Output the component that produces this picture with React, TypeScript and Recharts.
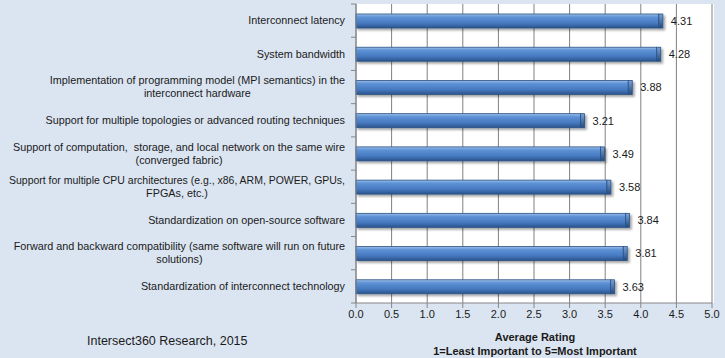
import React from 'react';
import { BarChart, Bar, XAxis, YAxis, CartesianGrid, LabelList } from 'recharts';

const categories = [
  'Interconnect latency',
  'System bandwidth',
  'Implementation of programming model (MPI semantics) in the\ninterconnect hardware',
  'Support for multiple topologies or advanced routing techniques',
  'Support of computation,  storage, and local network on the same wire\n(converged fabric)',
  'Support for multiple CPU architectures (e.g., x86, ARM, POWER, GPUs,\nFPGAs, etc.)',
  'Standardization on open-source software',
  'Forward and backward compatibility (same software will run on future\nsolutions)',
  'Standardization of interconnect technology',
];
const ratings = [4.31, 4.28, 3.88, 3.21, 3.49, 3.58, 3.84, 3.81, 3.63];
const xTicks = [0, 0.5, 1, 1.5, 2, 2.5, 3, 3.5, 4, 4.5, 5];

const FONT = '"Liberation Sans", Arial, sans-serif';
const LABEL_SIZE = 10.8;
const MAX_LABEL = 336;

const data = categories.map((name, i) => ({ name, value: ratings[i] }));

let ctx: CanvasRenderingContext2D | null = null;
function textWidth(s: string) {
  if (!ctx) ctx = document.createElement('canvas').getContext('2d');
  if (!ctx) return s.length * 5.4;
  ctx.font = `${LABEL_SIZE}px ${FONT}`;
  return ctx.measureText(s).width;
}

const CategoryTick = (props: any) => {
  const { y, payload, index } = props;
  const lines: string[] = String(payload.value).split('\n');
  const band = 299 / categories.length;
  const axisX = 356;
  const right = axisX - 11;
  const widths = lines.map((l) => Math.min(textWidth(l), MAX_LABEL));
  const block = Math.max(...widths);
  const cx = right - block / 2;
  const lh = 13;
  const y0 = y - ((lines.length - 1) * lh) / 2;
  return (
    <g>
      <line x1={axisX - 5} x2={axisX} y1={y - band / 2} y2={y - band / 2} stroke="#868686" />
      {index === categories.length - 1 && (
        <line x1={axisX - 5} x2={axisX} y1={y + band / 2} y2={y + band / 2} stroke="#868686" />
      )}
      {lines.map((l, i) => (
        <text
          key={i}
          x={lines.length > 1 ? cx : right}
          y={y0 + i * lh}
          dy="0.35em"
          textAnchor={lines.length > 1 ? 'middle' : 'end'}
          fontSize={LABEL_SIZE}
          fontFamily={FONT}
          fill="#1a1a1a"
          style={{ whiteSpace: 'pre' }}
          {...(textWidth(l) > MAX_LABEL ? { textLength: MAX_LABEL, lengthAdjust: 'spacingAndGlyphs' } : {})}
        >
          {l}
        </text>
      ))}
    </g>
  );
};

const BarShape = (props: any) => {
  const { x, y, width, height } = props;
  const cap = 4;
  return (
    <g filter="url(#barShadow)">
      <rect x={x} y={y} width={Math.max(width - cap, 0)} height={height} fill="url(#barGrad)" stroke="#2a5286" strokeWidth={0.8} />
      <rect x={x + width - cap} y={y} width={cap} height={height} fill="url(#capGrad)" stroke="#2a5286" strokeWidth={0.8} />
    </g>
  );
};

export default function App() {
  return (
    <div style={{ position: 'relative', width: 725, height: 358, background: '#dbe5f1', fontFamily: FONT }}>
      <style>{`body{margin:0}`}</style>
      <div style={{ position: 'absolute', left: 356, top: 4, width: 358, height: 299, background: '#ffffff' }} />
      <div style={{ position: 'absolute', left: 0, top: 0 }}>
        <BarChart
          width={725}
          height={358}
          data={data}
          layout="vertical"
          margin={{ top: 4, right: 13, left: 0, bottom: 35 }}
          barSize={14}
        >
          <defs>
            <linearGradient id="barGrad" x1="0" y1="0" x2="0" y2="1">
              <stop offset="0%" stopColor="#9cbfe8" />
              <stop offset="22%" stopColor="#5e92d6" />
              <stop offset="65%" stopColor="#4679c0" />
              <stop offset="100%" stopColor="#2b548c" />
            </linearGradient>
            <linearGradient id="capGrad" x1="0" y1="0" x2="0" y2="1">
              <stop offset="0%" stopColor="#7aa3d8" />
              <stop offset="100%" stopColor="#234a80" />
            </linearGradient>
            <filter id="barShadow" x="-5%" y="-40%" width="110%" height="190%">
              <feDropShadow dx="2" dy="2" stdDeviation="1.2" floodColor="#000" floodOpacity="0.35" />
            </filter>
          </defs>
          <CartesianGrid horizontal={false} stroke="#808080" strokeWidth={1} />
          <XAxis
            type="number"
            domain={[0, 5]}
            ticks={xTicks}
            interval={0}
            tickFormatter={(v: number) => v.toFixed(1)}
            tick={{ fontSize: 11, fontFamily: FONT, fill: '#1a1a1a' }}
            axisLine={{ stroke: '#868686' }}
            tickLine={{ stroke: '#868686' }}
            tickSize={5}
            height={20}
          />
          <YAxis
            type="category"
            dataKey="name"
            width={356}
            interval={0}
            tick={<CategoryTick />}
            tickLine={false}
            axisLine={{ stroke: '#868686' }}
          />
          <Bar dataKey="value" shape={<BarShape />} isAnimationActive={false}>
            <LabelList
              dataKey="value"
              position="right"
              offset={8}
              formatter={(v: any) => Number(v).toFixed(2)}
              style={{ fontSize: 11, fontFamily: FONT, fill: '#1a1a1a' }}
            />
          </Bar>
        </BarChart>
      </div>
      <div style={{ position: 'absolute', left: 356, width: 358, top: 330, textAlign: 'center', fontSize: 11, fontWeight: 'bold', color: '#1a1a1a', lineHeight: '14px' }}>
        Average Rating
        <br />
        1=Least Important to 5=Most Important
      </div>
      <div style={{ position: 'absolute', left: 87, top: 334, fontSize: 12.5, color: '#1a1a1a' }}>
        Intersect360 Research, 2015
      </div>
    </div>
  );
}
